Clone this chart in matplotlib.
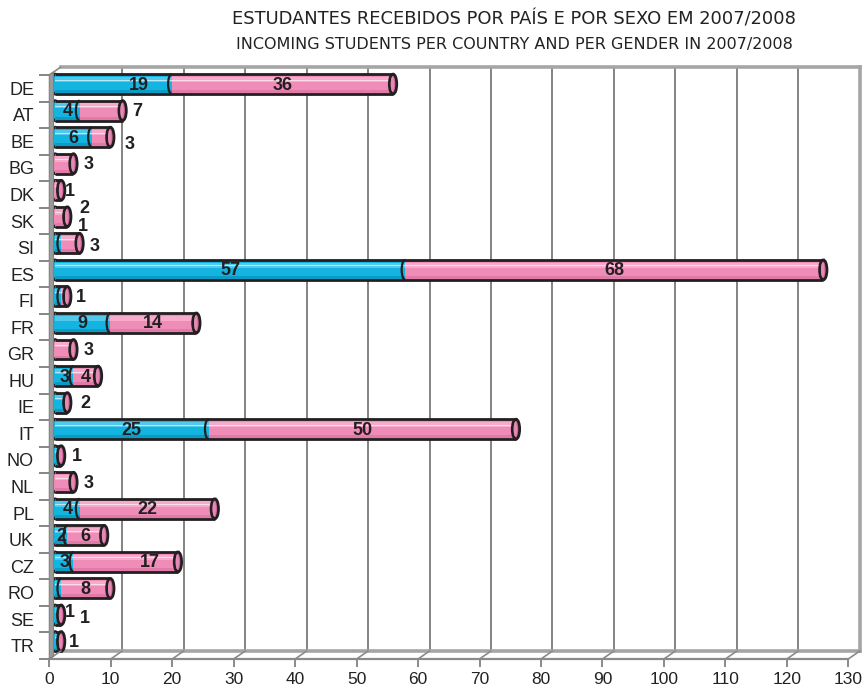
import matplotlib
matplotlib.use("Agg")
import matplotlib.pyplot as plt
from matplotlib.patches import Ellipse, Arc, Polygon, ConnectionPatch
from matplotlib.transforms import ScaledTranslation
import numpy as np

# ---------------- data ----------------
countries = ["DE", "AT", "BE", "BG", "DK", "SK", "SI", "ES", "FI", "FR", "GR",
             "HU", "IE", "IT", "NO", "NL", "PL", "UK", "CZ", "RO", "SE", "TR"]
male = [19, 4, 6, 0, 0, 0, 1, 57, 1, 9, 0, 3, 2, 25, 1, 0, 4, 2, 3, 1, 1, 1]
female = [36, 7, 3, 3, 1, 2, 3, 68, 1, 14, 3, 4, 0, 50, 0, 3, 22, 6, 17, 8, 0, 0]
male_labels = ["19", "4", "6", "", "", "", "1", "57", "", "9", "", "3", "2", "25",
               "1", "", "4", "2", "3", "", "1", "1"]
female_labels = ["36", "7", "3", "3", "1", "2", "3", "68", "1", "14", "3", "4", "",
                 "50", "", "3", "22", "6", "17", "8", "1", ""]
xticks = list(range(0, 131, 10))
title1 = "ESTUDANTES RECEBIDOS POR PAÍS E POR SEXO EM 2007/2008"
title2 = "INCOMING STUDENTS PER COUNTRY AND PER GENDER IN 2007/2008"

# manual label placement (x in value units, dy in pixels downward)
label_place = {
    ("DE", "m"): (13.7, 0), ("AT", "f"): (13.4, 0), ("BE", "f"): (12.2, 6),
    ("BG", "f"): (5.4, 0), ("DK", "f"): (2.4, 0), ("SK", "f"): (4.7, -9),
    ("SI", "m"): (4.6, -18), ("SI", "f"): (6.4, 2), ("FI", "f"): (4.2, 0),
    ("GR", "f"): (5.5, 0), ("IE", "m"): (5.0, 0), ("NO", "m"): (3.6, 0),
    ("NL", "f"): (5.5, 0), ("CZ", "f"): (15.5, 0), ("SE", "m"): (2.4, -3),
    ("SE", "f"): (4.9, 3), ("TR", "m"): (3.1, 0),
}

# ---------------- figure ----------------
W, H, DPI = 864, 691, 100
fig = plt.figure(figsize=(W / DPI, H / DPI), dpi=DPI)
fig.patch.set_facecolor("white")

def frac(x0, y_top, x1, y_bot):
    return [x0 / W, 1 - y_bot / H, (x1 - x0) / W, (y_bot - y_top) / H]

axF = fig.add_axes(frac(49.3, 75, 848.3, 659))   # front plane (ticks, labels)
axB = fig.add_axes(frac(60.8, 67, 859.8, 651))   # back plane (grid, bars)
for a in (axF, axB):
    a.set_xlim(0, 130)
    a.set_ylim(len(countries) - 0.5, -0.5)
    a.patch.set_alpha(0)

# front axes
for s in ("top", "right", "left"):
    axF.spines[s].set_visible(False)
axF.spines["bottom"].set_color("#8a8a8a")
axF.spines["bottom"].set_linewidth(1.6)
axF.set_xticks(xticks)
axF.set_xticklabels([str(t) for t in xticks], fontsize=12.5, color="#222222",
                    family="Liberation Sans")
axF.tick_params(axis="x", length=6, width=1.2, color="#777777", pad=3)
y = np.arange(len(countries))
axF.set_yticks(y)
axF.set_yticklabels(countries, fontsize=13, color="#222222", family="Liberation Sans")
axF.tick_params(axis="y", which="major", length=0, pad=11)
axF.set_yticks(np.arange(len(countries) + 1) - 0.5, minor=True)
axF.tick_params(axis="y", which="minor", length=7, width=1.1, color="#666666")

# back axes
axB.set_xticks(xticks[1:-1])
axB.set_yticks([])
axB.tick_params(axis="x", length=0, labelbottom=False)
axB.grid(axis="x", color="#7a7a7a", linewidth=1.3)
axB.set_axisbelow(True)
axB.spines["left"].set_visible(False)
for s in ("top", "right", "bottom"):
    axB.spines[s].set_color("#a5a5a5")
    axB.spines[s].set_linewidth(2.6)

# floor diagonals
for t in xticks:
    con = ConnectionPatch(xyA=(t, 0), coordsA=axF.get_xaxis_transform(),
                          xyB=(t, 0), coordsB=axB.get_xaxis_transform(),
                          color="#8a8a8a", lw=1.2)
    fig.add_artist(con)
# top-left wall diagonal
fig.add_artist(ConnectionPatch(xyA=(0, 1), coordsA=axF.transAxes,
                               xyB=(0, 1), coordsB=axB.transAxes,
                               color="#8a8a8a", lw=1.2))
# left wall band
wall = Polygon([(49.3 / W, 1 - 659 / H), (53.5 / W, 1 - 656 / H),
                (53.5 / W, 1 - 72 / H), (49.3 / W, 1 - 75 / H)],
               closed=True, transform=fig.transFigure, facecolor="#9a9a9a",
               edgecolor="#808080", lw=0.8)
fig.add_artist(wall)

# ---------------- cylinders ----------------
btr = axB.transData + ScaledTranslation(-5.8 / DPI, -3.8 / DPI, fig.dpi_scale_trans)
h = 0.75
cw = 1.2
dark = "#231f20"
styles = {
    "m": dict(base="#14b4e0", light="#52c8ec", shade="#0a9cc6"),
    "f": dict(base="#f08cb8", light="#f6abcc", shade="#e07aa8"),
}

def segment(left, width, c, st, z):
    if width <= 0:
        return
    axB.barh(c, width, left=left, height=h, color=st["base"], transform=btr,
             zorder=z, linewidth=0, clip_on=False)
    axB.barh(c - h * 0.24, width, left=left, height=h * 0.26, color=st["light"],
             transform=btr, zorder=z + 0.1, linewidth=0, clip_on=False)
    axB.barh(c - h * 0.2, width, left=left, height=h * 0.05, color="white",
             alpha=0.6, transform=btr, zorder=z + 0.2, linewidth=0, clip_on=False)
    axB.barh(c + h * 0.38, width, left=left, height=h * 0.16, color=st["shade"],
             transform=btr, zorder=z + 0.1, linewidth=0, clip_on=False)

for i, name in enumerate(countries):
    m, f = male[i], female[i]
    tot = m + f
    first = styles["m"] if m > 0 else styles["f"]
    # left rounded end
    axB.add_patch(Ellipse((0, i), cw, h, facecolor=first["base"], edgecolor=dark,
                          lw=2, transform=btr, zorder=3, clip_on=False))
    segment(0, m, i, styles["m"], 4)
    segment(m, f, i, styles["f"], 4)
    axB.hlines([i - h / 2, i + h / 2], 0, tot, colors=dark, lw=2,
               transform=btr, zorder=5, clip_on=False)
    if m > 0 and f > 0:
        axB.add_patch(Arc((m, i), cw, h, theta1=90, theta2=270, edgecolor=dark,
                          lw=1.6, transform=btr, zorder=5, clip_on=False))
    # right end cap
    axB.add_patch(Ellipse((tot, i), cw, h, facecolor="#d4679c", edgecolor=dark,
                          lw=2, transform=btr, zorder=6, clip_on=False))
    axB.add_patch(Ellipse((tot - cw * 0.08, i), cw * 0.45, h * 0.75,
                          facecolor="#e48ab5", edgecolor="none",
                          transform=btr, zorder=6.1, clip_on=False))

# ---------------- labels ----------------
for i, name in enumerate(countries):
    for key, val, lab, start in (("m", male[i], male_labels[i], 0),
                                 ("f", female[i], female_labels[i], male[i])):
        if not lab:
            continue
        x, dy = label_place.get((name, key), (start + val / 2.0, 0))
        axB.annotate(lab, xy=(x, i), xycoords=btr, xytext=(0, -(dy + 1) * 0.72),
                     textcoords="offset points", ha="center", va="center",
                     fontsize=13, fontweight="bold", color="#231f20",
                     family="Liberation Sans", zorder=10, annotation_clip=False)

# ---------------- titles ----------------
fig.text(514 / W, 1 - 20 / H, title1, ha="center", va="center", fontsize=12.9,
         family="Liberation Sans Narrow", color="#222222")
fig.text(514 / W, 1 - 45 / H, title2, ha="center", va="center", fontsize=11.5,
         family="Liberation Sans Narrow", color="#222222")

fig.savefig("out.png", dpi=DPI, facecolor="white")
